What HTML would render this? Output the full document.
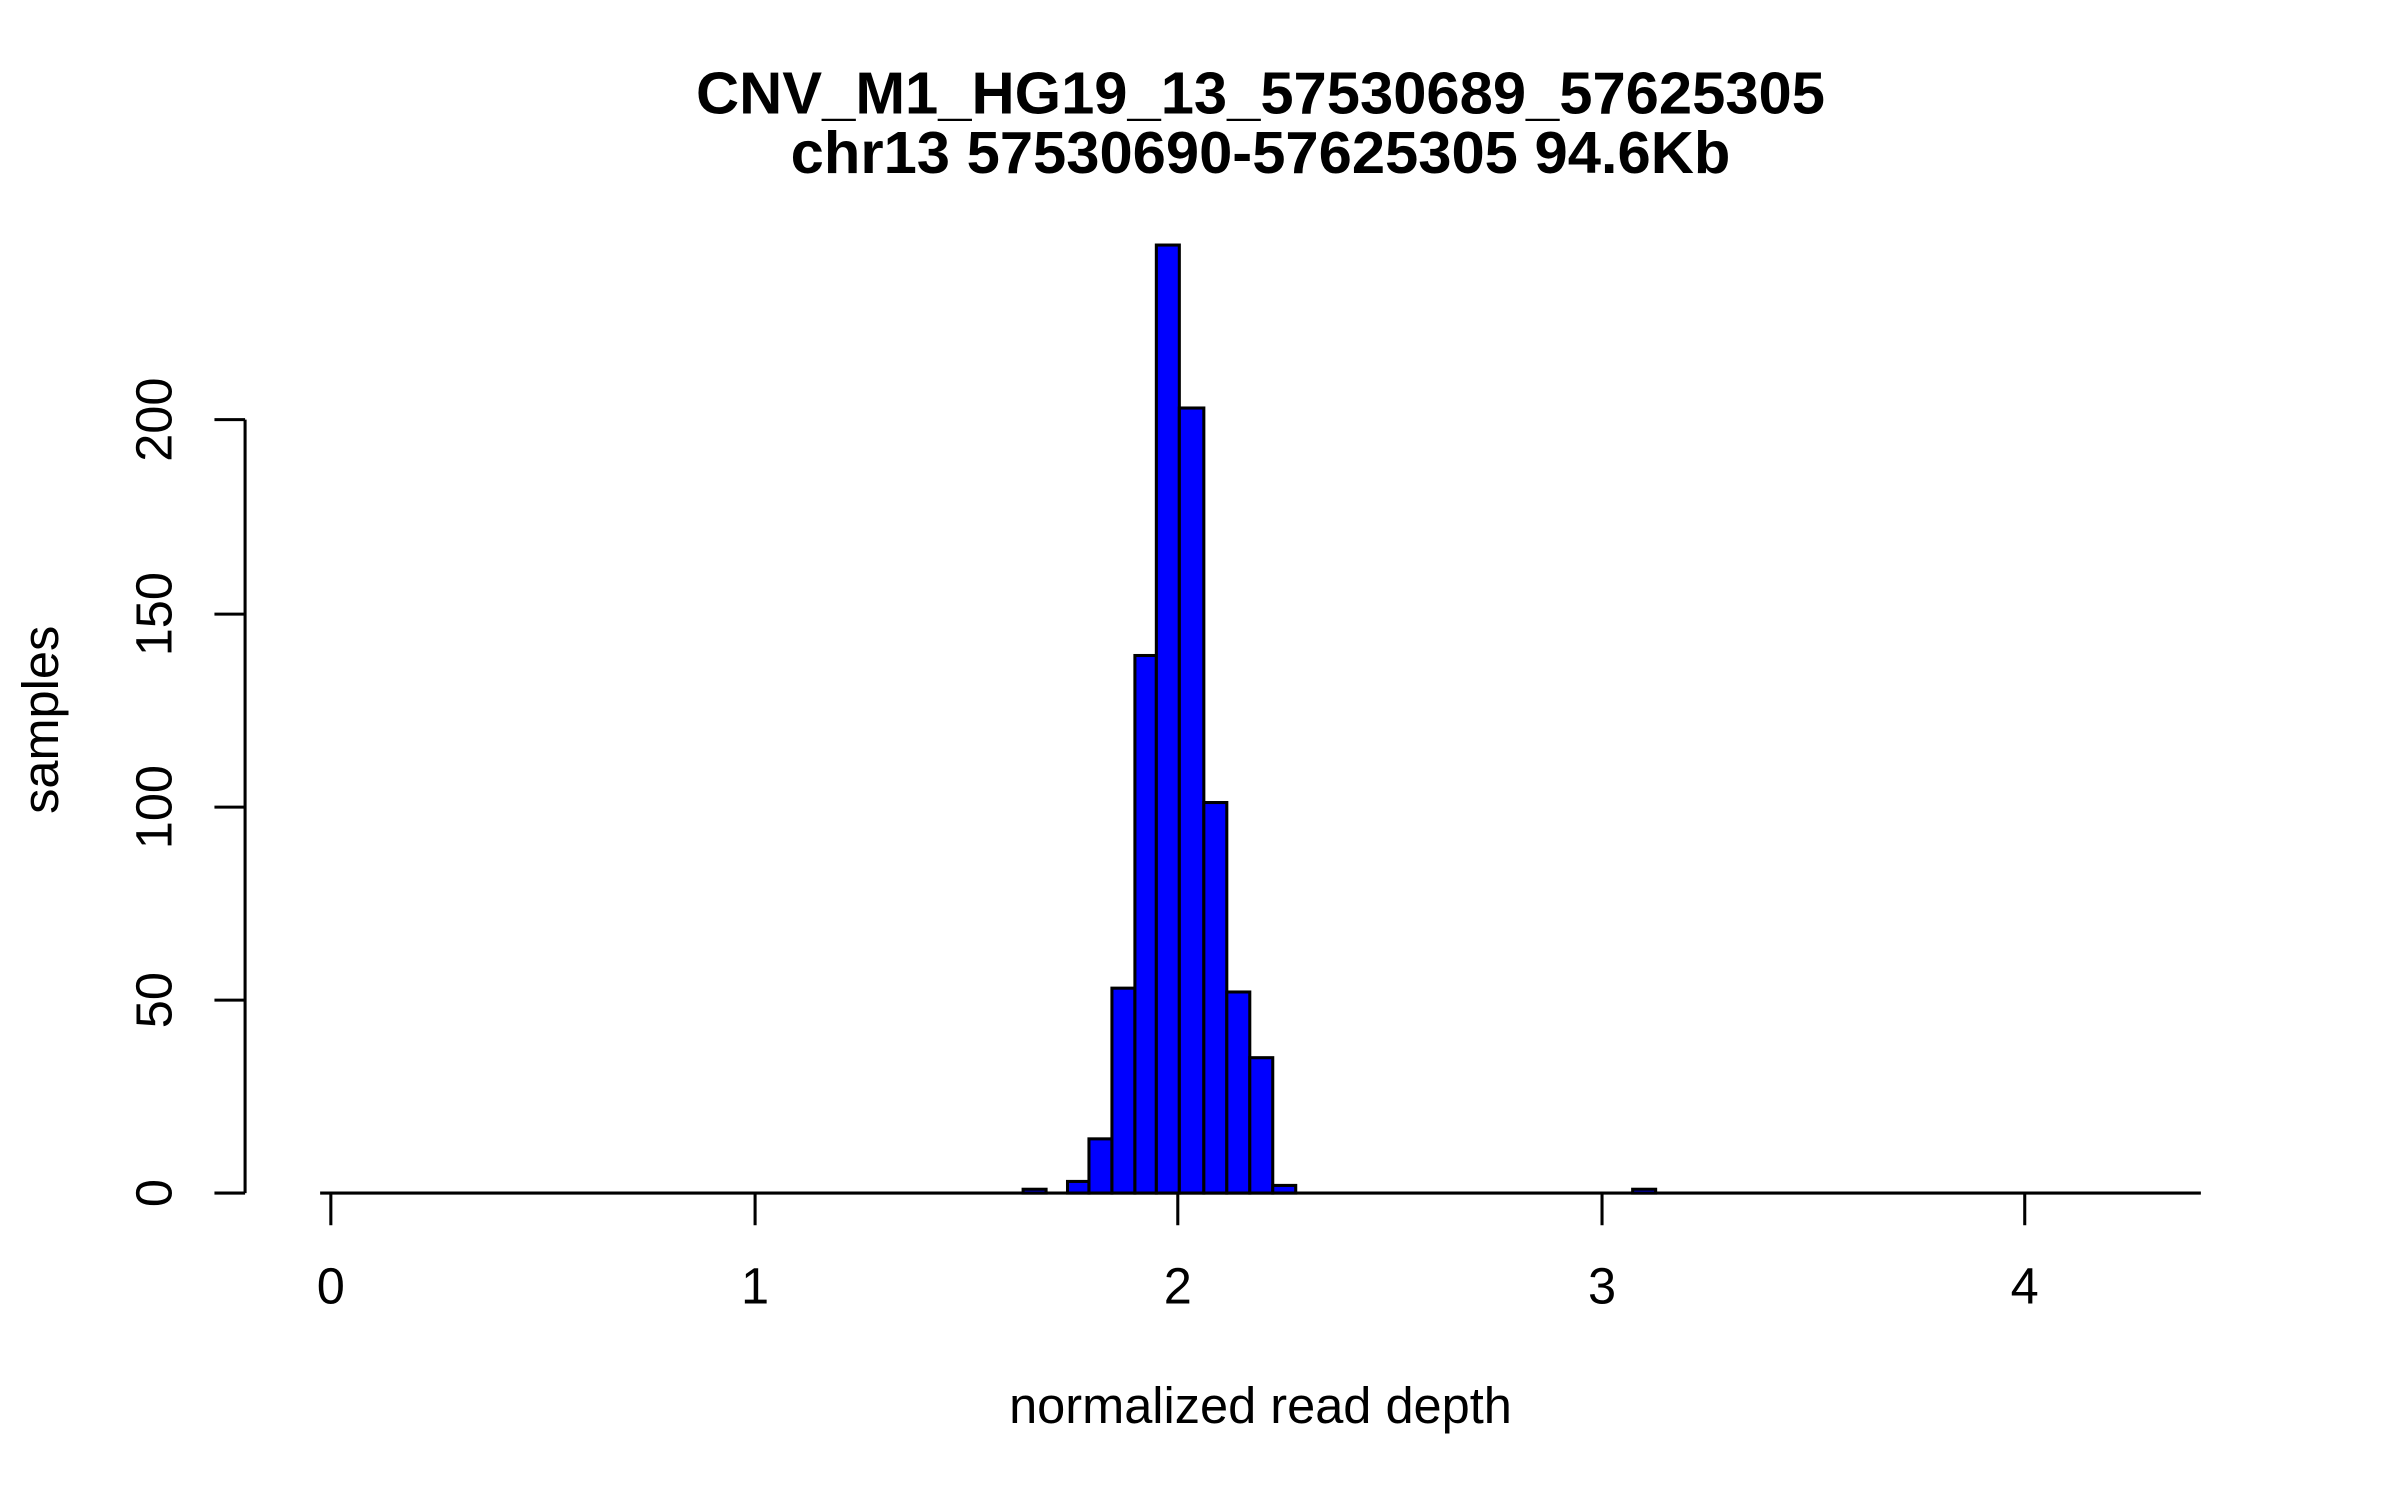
<!DOCTYPE html>
<html><head><style>html,body{margin:0;padding:0;background:#fff}svg{display:block}</style></head>
<body>
<svg width="2400" height="1500" viewBox="0 0 1567 979.4" xmlns="http://www.w3.org/2000/svg" font-family="Liberation Sans, sans-serif">
<rect width="1567" height="979.4" fill="#fff"/>
<text x="823" y="74" font-size="39" font-weight="bold" text-anchor="middle">CNV_M1_HG19_13_57530689_57625305</text>
<text x="823" y="113" font-size="39" font-weight="bold" text-anchor="middle">chr13 57530690-57625305 94.6Kb</text>
<g fill="#0000ff" stroke="#000" stroke-width="2">
<rect x="668" y="776.5" width="15" height="2.5"/>
<rect x="697" y="771.4" width="14" height="7.6"/>
<rect x="711" y="743.6" width="15" height="35.4"/>
<rect x="726" y="645.2" width="15" height="133.8"/>
<rect x="741" y="428" width="14" height="351"/>
<rect x="755" y="160" width="15" height="619"/>
<rect x="770" y="266.4" width="16" height="512.6"/>
<rect x="786" y="524" width="15" height="255"/>
<rect x="801" y="647.7" width="15" height="131.3"/>
<rect x="816" y="690.6" width="15" height="88.4"/>
<rect x="831" y="774" width="15" height="5"/>
<rect x="1066" y="776.5" width="15" height="2.5"/>
</g>
<g stroke="#000" stroke-width="2" fill="none">
<line x1="209" y1="779" x2="1437" y2="779"/>
<line x1="216" y1="779" x2="216" y2="800"/>
<line x1="493" y1="779" x2="493" y2="800"/>
<line x1="769" y1="779" x2="769" y2="800"/>
<line x1="1046" y1="779" x2="1046" y2="800"/>
<line x1="1322" y1="779" x2="1322" y2="800"/>
<line x1="160" y1="274" x2="160" y2="779"/>
<line x1="140" y1="779" x2="160" y2="779"/>
<line x1="140" y1="653" x2="160" y2="653"/>
<line x1="140" y1="527" x2="160" y2="527"/>
<line x1="140" y1="401" x2="160" y2="401"/>
<line x1="140" y1="274" x2="160" y2="274"/>
</g>
<g font-size="33" text-anchor="middle">
<text x="216" y="851">0</text>
<text x="493" y="851">1</text>
<text x="769" y="851">2</text>
<text x="1046" y="851">3</text>
<text x="1322" y="851">4</text>
<text transform="translate(112,779) rotate(-90)">0</text>
<text transform="translate(112,653) rotate(-90)">50</text>
<text transform="translate(112,527) rotate(-90)">100</text>
<text transform="translate(112,401) rotate(-90)">150</text>
<text transform="translate(112,274) rotate(-90)">200</text>
<text x="823" y="929">normalized read depth</text>
<text transform="translate(38,470) rotate(-90)">samples</text>
</g>
</svg>
</body></html>
